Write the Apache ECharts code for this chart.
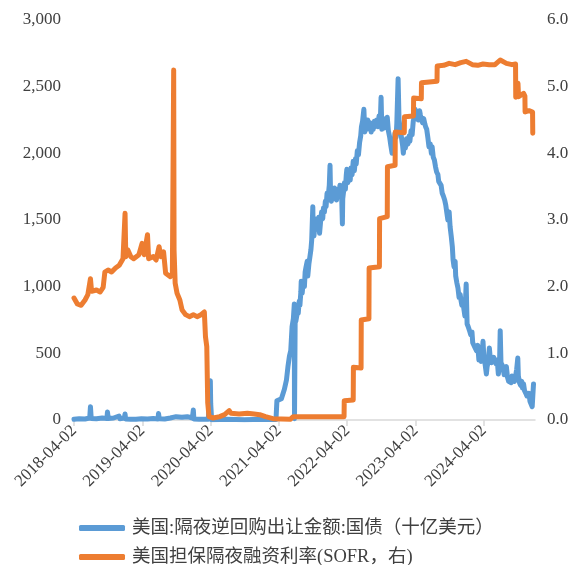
<!DOCTYPE html>
<html>
<head>
<meta charset="utf-8">
<script src="https://cdn.jsdelivr.net/npm/echarts@6/dist/echarts.min.js"></script>
<style>
  html, body { margin: 0; padding: 0; background: #fff; }
  #chart { width: 580px; height: 565px; }
</style>
</head>
<body>
<div id="chart"></div>
<script>
// Overnight reverse repo volume (USD bn, left axis)
const rrpDates = ['2018-04-02','2018-04-30','2018-05-31','2018-06-25','2018-06-29','2018-07-03','2018-07-31','2018-08-31','2018-09-25','2018-09-28','2018-10-02','2018-10-31','2018-11-29','2018-12-03','2018-12-27','2018-12-31','2019-01-03','2019-01-31','2019-02-28','2019-03-29','2019-04-30','2019-05-31','2019-06-25','2019-06-28','2019-07-02','2019-07-31','2019-08-30','2019-09-30','2019-10-31','2019-11-29','2019-12-26','2019-12-31','2020-01-03','2020-01-31','2020-02-28','2020-03-20','2020-03-26','2020-03-31','2020-04-02','2020-04-07','2020-06-30','2020-09-30','2020-12-31','2021-03-17','2021-03-22','2021-04-01','2021-04-15','2021-05-01','2021-05-12','2021-05-20','2021-05-28','2021-06-04','2021-06-11','2021-06-18','2021-06-23','2021-06-24',
'2021-06-28','2021-07-01','2021-07-06','2021-07-09','2021-07-14','2021-07-19','2021-07-23','2021-07-28','2021-07-30','2021-08-04','2021-08-10','2021-08-16','2021-08-20','2021-08-25','2021-08-31','2021-09-03','2021-09-09','2021-09-14','2021-09-20','2021-09-24','2021-09-30','2021-10-01','2021-10-06','2021-10-12','2021-10-18','2021-10-22','2021-10-27','2021-11-01','2021-11-05','2021-11-10','2021-11-16','2021-11-22','2021-11-26','2021-12-01','2021-12-06','2021-12-10','2021-12-15','2021-12-20','2021-12-27','2021-12-31',
'2022-01-03','2022-01-07','2022-01-12','2022-01-18','2022-01-24','2022-01-31','2022-02-04','2022-02-10','2022-02-16','2022-02-22','2022-02-28','2022-03-03','2022-03-07','2022-03-09','2022-03-14','2022-03-18','2022-03-23','2022-03-28','2022-03-31','2022-04-05','2022-04-11','2022-04-18','2022-04-22','2022-04-28','2022-05-04','2022-05-10','2022-05-16','2022-05-20','2022-05-26','2022-06-01','2022-06-07','2022-06-13','2022-06-17','2022-06-23','2022-06-30','2022-07-05','2022-07-11','2022-07-15','2022-07-21','2022-07-27','2022-08-02','2022-08-08','2022-08-15','2022-08-19','2022-08-25','2022-08-31','2022-09-07','2022-09-13','2022-09-19','2022-09-26','2022-09-30','2022-10-04','2022-10-11','2022-10-17','2022-10-21','2022-10-27','2022-11-02','2022-11-08','2022-11-15','2022-11-21','2022-11-28','2022-12-02','2022-12-08','2022-12-13','2022-12-19','2022-12-23','2022-12-30',
'2023-01-04','2023-01-10','2023-01-17','2023-01-23','2023-01-27','2023-02-01','2023-02-07','2023-02-13','2023-02-21','2023-02-27','2023-03-03','2023-03-09','2023-03-15','2023-03-21','2023-03-27','2023-03-31','2023-04-05','2023-04-11','2023-04-17','2023-04-24','2023-04-28','2023-05-04','2023-05-10','2023-05-16','2023-05-22','2023-05-26','2023-06-01','2023-06-07','2023-06-13','2023-06-20','2023-06-26','2023-06-30','2023-07-06','2023-07-12','2023-07-18','2023-07-24','2023-07-31','2023-08-04','2023-08-10','2023-08-17','2023-08-23','2023-08-29','2023-09-05','2023-09-11','2023-09-18','2023-09-22','2023-09-29','2023-10-04','2023-10-10','2023-10-16','2023-10-20','2023-10-25','2023-10-31','2023-11-03','2023-11-09','2023-11-15','2023-11-21','2023-11-27','2023-12-01','2023-12-06','2023-12-12','2023-12-18','2023-12-22','2023-12-29',
'2024-01-03','2024-01-09','2024-01-16','2024-01-22','2024-01-29','2024-02-02','2024-02-08','2024-02-15','2024-02-22','2024-02-29','2024-03-06','2024-03-12','2024-03-18','2024-03-22','2024-03-28','2024-04-02','2024-04-08','2024-04-15','2024-04-19','2024-04-25','2024-05-01','2024-05-06','2024-05-13','2024-05-20','2024-05-24','2024-05-31','2024-06-06','2024-06-12','2024-06-18','2024-06-24','2024-06-28','2024-07-02','2024-07-09','2024-07-15','2024-07-19','2024-07-25','2024-07-31','2024-08-06','2024-08-12','2024-08-19','2024-08-26','2024-08-30','2024-09-06','2024-09-12','2024-09-17','2024-09-24','2024-09-30','2024-10-03','2024-10-09','2024-10-15','2024-10-21','2024-10-25','2024-10-31','2024-11-05','2024-11-12','2024-11-18','2024-11-22','2024-11-29','2024-12-04','2024-12-10','2024-12-16','2024-12-19','2024-12-23'];
const rrpValues = [5,10,8,15,100,12,10,15,12,60,12,15,30,10,15,45,8,5,5,10,8,12,8,48,10,8,15,25,20,25,15,75,8,5,5,5,150,295,120,2,5,2,5,3,145,150,160,230,300,400,480,520,700,760,870,10,
840,740,780,850,800,890,860,960,1040,950,1040,1000,1110,1150,1190,1080,1170,1220,1280,1350,1600,1460,1380,1480,1430,1510,1440,1520,1400,1480,1560,1510,1590,1560,1640,1600,1700,1660,1760,1910,
1690,1640,1720,1660,1740,1700,1650,1730,1680,1760,1720,1690,1470,1660,1720,1780,1730,1840,1880,1780,1850,1800,1890,1840,1940,1870,1960,1920,2020,1990,2080,2130,2200,2240,2330,2160,2230,2180,2250,2190,2230,2160,2220,2180,2240,2200,2250,2200,2280,2250,2420,2180,2240,2190,2260,2210,2270,2170,2120,2060,2000,2100,2060,2150,2120,2220,2560,
2250,2190,2120,2060,2000,2080,2040,2110,2070,2130,2090,2170,2140,2240,2280,2330,2260,2310,2250,2320,2290,2250,2230,2260,2220,2200,2180,2120,2050,2070,2000,2050,1970,1950,1900,1860,1840,1790,1780,1760,1700,1680,1650,1610,1600,1500,1560,1450,1380,1300,1200,1150,1190,1080,1030,990,920,940,900,860,880,820,780,1020,
720,700,670,640,660,580,570,540,520,560,450,470,440,470,590,460,420,345,400,440,540,460,430,420,470,480,420,450,345,400,670,430,410,380,340,330,400,320,290,300,280,330,310,290,320,380,465,330,280,260,290,240,270,220,200,180,170,200,140,130,100,90,270];

// Secured overnight financing rate (%, right axis)
const sofrDates = ['2018-04-02','2018-04-20','2018-05-10','2018-05-31','2018-06-15','2018-06-29','2018-07-05','2018-07-31','2018-08-20','2018-09-05','2018-09-14','2018-10-01','2018-10-20','2018-11-10','2018-11-30','2018-12-20','2018-12-31','2019-01-04','2019-01-15','2019-01-31','2019-02-15','2019-03-01','2019-03-15','2019-04-01','2019-04-12','2019-04-30','2019-05-06','2019-05-31','2019-06-15','2019-07-01','2019-07-10','2019-07-25','2019-08-05','2019-08-30','2019-09-10','2019-09-17','2019-09-19','2019-09-25','2019-10-05','2019-10-20','2019-11-01','2019-11-20','2019-12-10','2019-12-31','2020-01-20','2020-02-10','2020-02-28','2020-03-03','2020-03-05','2020-03-12','2020-03-17','2020-03-24','2020-04-15','2020-05-20','2020-06-15','2020-07-10','2020-07-20','2020-09-01','2020-10-15','2020-11-20','2020-12-20','2021-01-20','2021-03-01','2021-06-01','2021-06-17','2021-12-31','2022-03-16','2022-03-17','2022-05-04','2022-05-05','2022-06-15','2022-06-16','2022-07-27','2022-07-28','2022-09-21','2022-09-22','2022-11-02','2022-11-03','2022-12-14','2022-12-15','2023-02-01','2023-02-02','2023-03-22','2023-03-23','2023-05-03','2023-05-04','2023-07-26','2023-07-27','2023-08-31','2023-09-29','2023-10-31','2023-11-30','2023-12-29','2024-01-02','2024-01-31','2024-02-29','2024-03-28','2024-04-30','2024-05-31','2024-06-28','2024-07-01','2024-07-31','2024-08-30','2024-09-18','2024-09-19','2024-09-27','2024-10-01','2024-10-04','2024-10-31','2024-11-07','2024-11-08','2024-11-29','2024-12-02','2024-12-18','2024-12-19','2024-12-20'];
const sofrValues = [1.83,1.74,1.72,1.80,1.88,2.12,1.93,1.95,1.92,1.99,2.22,2.25,2.22,2.28,2.32,2.42,3.10,2.45,2.55,2.45,2.42,2.45,2.48,2.65,2.48,2.78,2.42,2.45,2.40,2.60,2.45,2.52,2.20,2.15,2.20,5.25,2.55,2.05,1.90,1.80,1.65,1.58,1.55,1.58,1.55,1.58,1.62,1.60,1.25,1.10,0.26,0.05,0.03,0.05,0.08,0.14,0.10,0.09,0.10,0.09,0.08,0.05,0.02,0.01,0.05,0.05,0.05,0.29,0.30,0.79,0.78,1.50,1.52,2.28,2.30,3.02,3.05,3.80,3.82,4.32,4.31,4.55,4.56,4.83,4.82,5.06,5.08,5.31,5.32,5.35,5.33,5.36,5.38,5.40,5.33,5.32,5.34,5.33,5.33,5.40,5.40,5.35,5.33,5.34,4.84,4.96,5.05,4.85,4.90,4.86,4.62,4.64,4.64,4.62,4.30,4.29];

// Year marks on the date axis
const tickDates = ['2018-04-02','2019-04-02','2020-04-02','2021-04-02','2022-04-02','2023-04-02','2024-04-02'];
const axisStart = '2018-04-02';
const axisEnd = '2024-12-31';

const leftTicks = { min: 0, max: 3000, interval: 500 };
const rightTicks = { min: 0, max: 6, interval: 1 };

const seriesNames = ['美国:隔夜逆回购出让金额:国债（十亿美元）', '美国担保隔夜融资利率(SOFR，右)'];
const seriesColors = ['#5B9BD5', '#ED7D31'];

function toTime(s) {
  const p = s.split('-').map(Number);
  return Date.UTC(p[0], p[1] - 1, p[2]);
}
function pad(n) { return n < 10 ? '0' + n : '' + n; }
function fmtDate(v) {
  const d = new Date(v);
  return d.getUTCFullYear() + '-' + pad(d.getUTCMonth() + 1) + '-' + pad(d.getUTCDate());
}

const serif = "'Liberation Serif', 'Times New Roman', 'Noto Sans CJK SC', serif";
const labelColor = '#404040';
const tickValues = tickDates.map(toTime);

// one legend row per series, stacked under the plot
function legendRow(name, top) {
  return {
    orient: 'horizontal',
    left: 74,
    top: top,
    icon: 'roundRect',
    itemWidth: 46,
    itemHeight: 6,
    textStyle: { fontFamily: serif, fontSize: 18.5, lineHeight: 22, color: labelColor, padding: [0, 0, 0, 2] },
    data: [name]
  };
}

const chart = echarts.init(document.getElementById('chart'), null, { renderer: 'canvas' });
chart.setOption({
  animation: false,
  backgroundColor: '#ffffff',
  grid: { left: 74, right: 45, top: 20, bottom: 145, containLabel: false, outerBoundsMode: 'none' },
  legend: [legendRow(seriesNames[0], 512), legendRow(seriesNames[1], 541)],
  xAxis: {
    type: 'value',
    min: toTime(axisStart),
    max: toTime(axisEnd),
    axisLine: { show: true, lineStyle: { color: '#d9d9d9', width: 1.5 } },
    axisTick: { show: true, customValues: tickValues, length: 6, lineStyle: { color: '#d9d9d9', width: 1.5 } },
    splitLine: { show: false },
    axisLabel: {
      customValues: tickValues,
      rotate: 45,
      margin: 8,
      fontFamily: serif,
      fontSize: 17,
      color: labelColor,
      formatter: function (v) { return fmtDate(v); }
    }
  },
  yAxis: [
    {
      type: 'value',
      min: leftTicks.min, max: leftTicks.max, interval: leftTicks.interval,
      axisLine: { show: false },
      axisTick: { show: false },
      splitLine: { show: false },
      axisLabel: {
        margin: 13, fontFamily: serif, fontSize: 17, color: labelColor,
        formatter: function (v) { return v.toLocaleString('en-US'); }
      }
    },
    {
      type: 'value',
      min: rightTicks.min, max: rightTicks.max, interval: rightTicks.interval,
      position: 'right',
      axisLine: { show: false },
      axisTick: { show: false },
      splitLine: { show: false },
      axisLabel: {
        margin: 12, fontFamily: serif, fontSize: 17, color: labelColor,
        formatter: function (v) { return v.toFixed(1); }
      }
    }
  ],
  series: [
    {
      name: seriesNames[0],
      type: 'line',
      yAxisIndex: 0,
      showSymbol: false,
      symbol: 'none',
      color: seriesColors[0],
      lineStyle: { width: 5, cap: 'round', join: 'round' },
      data: rrpDates.map((d, i) => [toTime(d), rrpValues[i]])
    },
    {
      name: seriesNames[1],
      type: 'line',
      yAxisIndex: 1,
      showSymbol: false,
      symbol: 'none',
      color: seriesColors[1],
      lineStyle: { width: 5, cap: 'round', join: 'round' },
      data: sofrDates.map((d, i) => [toTime(d), sofrValues[i]])
    }
  ]
});
</script>
</body>
</html>
